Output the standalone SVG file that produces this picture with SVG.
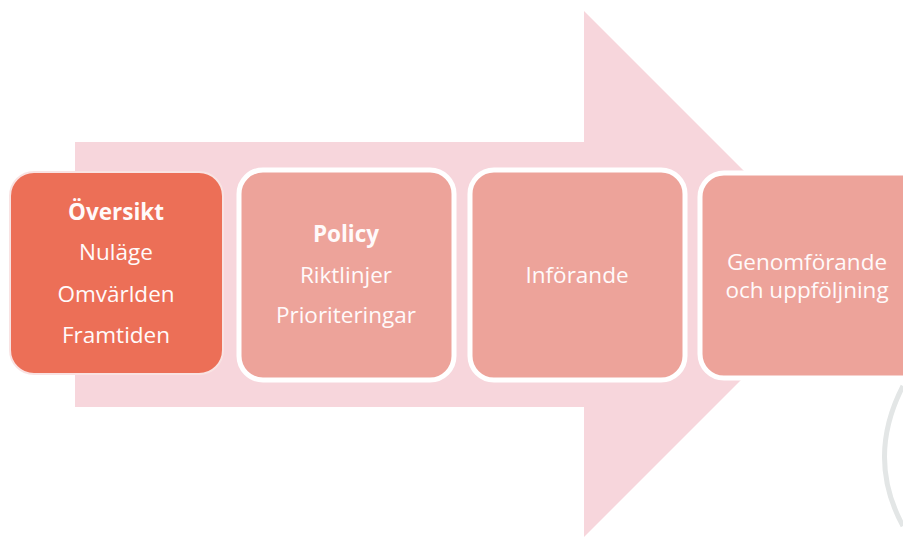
<svg xmlns="http://www.w3.org/2000/svg" width="903" height="538" viewBox="0 0 903 538">
<style>
.t{font-family:"Open Sans","Liberation Sans",sans-serif;font-size:22.5px;fill:#fffafa;text-anchor:middle}
.b{font-weight:bold}
.box{fill:#eda39a;stroke:#ffffff;stroke-width:5}
</style>
<rect width="903" height="538" fill="#ffffff"/>
<g id="arrow">
<polygon points="75,142 584,142 584,11 847,274 584,537 584,407 75,407" fill="#f7d6dc"/>
</g>
<g id="arc">
<path d="M903,386 Q866,458 903,526" fill="none" stroke="#e3e6e6" stroke-width="5"/>
</g>
<g id="connectors"></g>
<g id="node1">
<rect x="10" y="172" width="213" height="202" rx="24" fill="#ec6f57" stroke="#f9e3e3" stroke-width="2"/>
<text class="t b" x="116" y="220">Översikt</text>
<text class="t" x="116" y="260">Nuläge</text>
<text class="t" x="116" y="302">Omvärlden</text>
<text class="t" x="116" y="343">Framtiden</text>
</g>
<g id="node2">
<rect class="box" x="239" y="170" width="215" height="210" rx="24"/>
<text class="t b" x="346" y="242">Policy</text>
<text class="t" x="346" y="283">Riktlinjer</text>
<text class="t" x="346" y="323">Prioriteringar</text>
</g>
<g id="node3">
<rect class="box" x="470" y="170" width="215" height="210" rx="24"/>
<text class="t" x="577" y="283">Införande</text>
</g>
<g id="node4">
<rect class="box" x="700" y="173" width="225" height="205" rx="24"/>
<text class="t" x="807" y="270">Genomförande</text>
<text class="t" x="807" y="298">och uppföljning</text>
</g>
</svg>
